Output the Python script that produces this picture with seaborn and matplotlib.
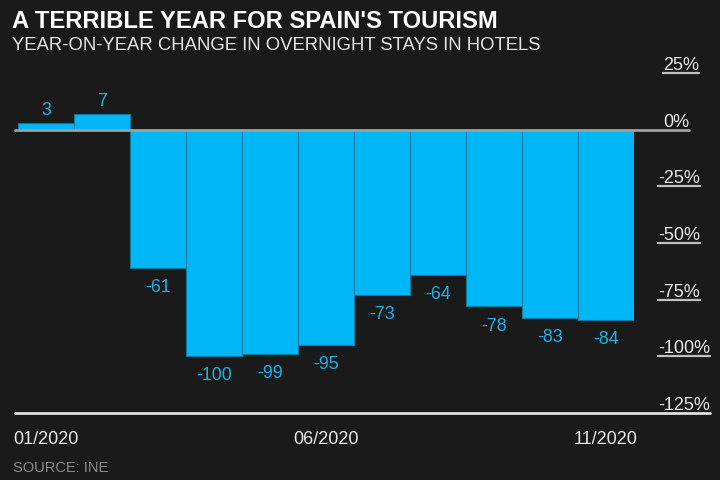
import seaborn as sns
import matplotlib.pyplot as plt
import matplotlib.transforms as mtransforms

months = ["01/2020", "02/2020", "03/2020", "04/2020", "05/2020", "06/2020",
          "07/2020", "08/2020", "09/2020", "10/2020", "11/2020"]
change = [3, 7, -61, -100, -99, -95, -73, -64, -78, -83, -84]
shown_months = ["01/2020", "06/2020", "11/2020"]
y_ticks = [25, 0, -25, -50, -75, -100, -125]

bg = "#1a1a1a"
bar_col = "#00b6f7"
label_col = "#1ab0ea"

sns.set_theme(style="dark", rc={"axes.facecolor": bg, "figure.facecolor": bg})
plt.rcParams["font.family"] = ["Liberation Sans", "DejaVu Sans"]

fig = plt.figure(figsize=(7.2, 4.8), dpi=100)
ax = fig.add_axes([18 / 720, 67 / 480, 616 / 720, 340 / 480])

sns.barplot(x=months, y=change, color=bar_col, saturation=1, width=1,
            edgecolor="#0b78a0", linewidth=0.8, ax=ax)
ax.set_xlim(-0.5, len(months) - 0.5)
ax.set_ylim(y_ticks[-1], y_ticks[0])
for s in ax.spines.values():
    s.set_visible(False)
ax.grid(False)
ax.set_xlabel("")
ax.set_ylabel("")
ax.set_yticks([])
ax.set_xticks([months.index(m) for m in shown_months])
ax.set_xticklabels(shown_months)
ax.tick_params(axis="x", length=0, pad=13, labelsize=13, labelcolor="#e8e8e8")

# value labels
for i, v in enumerate(change):
    ax.annotate(f"{v}", (i, v), xytext=(0, 2.5 if v > 0 else -8),
                textcoords="offset points", ha="center",
                va="bottom" if v > 0 else "top", color=label_col, fontsize=12.8)

# right-hand y labels with underlines
trans = mtransforms.blended_transform_factory(ax.transAxes, ax.transData)
lift = mtransforms.offset_copy(trans, fig=fig, x=0, y=3, units="dots")
texts = []
for v in y_ticks:
    x0 = 1.039 if v < 0 else 1.047
    t = ax.text(x0, v, f"{v}%", transform=lift, ha="left", va="baseline",
                fontsize=13, color="#e8e8e8")
    texts.append((v, t))

fig.canvas.draw()
inv = ax.transAxes.inverted()
for v, t in texts:
    bb = t.get_window_extent()
    xr = inv.transform((bb.x1, 0))[0]
    xl = inv.transform((bb.x0, 0))[0]
    if v == 0:
        ax.plot([-0.005, xr], [v, v], transform=trans, color="#a0a0a0",
                lw=2, clip_on=False, zorder=5)
    elif v == y_ticks[-1]:
        ax.plot([-0.005, xr], [v, v], transform=trans, color="#e0e0e0",
                lw=2, clip_on=False, zorder=5)
    else:
        ax.plot([xl, xr], [v, v], transform=trans, color="#c0c0c0",
                lw=1.6, clip_on=False, zorder=5)

fig.text(12 / 720, 1 - 28 / 480, "A TERRIBLE YEAR FOR SPAIN'S TOURISM",
         fontsize=17.1, fontweight="bold", color="white", va="baseline")
fig.text(12 / 720, 1 - 50 / 480, "YEAR-ON-YEAR CHANGE IN OVERNIGHT STAYS IN HOTELS",
         fontsize=13.3, color="#e6e6e6", va="baseline")
fig.text(13 / 720, 1 - 472 / 480, "SOURCE: INE", fontsize=10.5,
         color="#8a8a8a", va="baseline")

fig.savefig("out.png", dpi=100, facecolor=bg)
